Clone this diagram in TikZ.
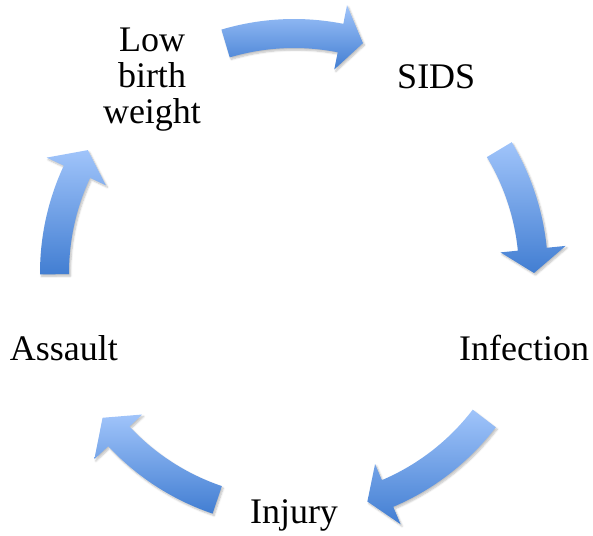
\documentclass[tikz,border=0pt]{standalone}
\usepackage{fontspec}
\setmainfont{Liberation Serif}
\usepackage{tikz}
\usetikzlibrary{shadows.blur}

\begin{document}
\begin{tikzpicture}[x=1pt,y=1pt,
  ring arrow/.style={top color=arrowtop,bottom color=arrowbottom,draw=none,
    blur shadow={shadow xshift=1.5pt,shadow yshift=-2pt,shadow opacity=25,shadow blur steps=6}},
  ring text/.style={font=\fontsize{36}{36}\selectfont,align=center,inner sep=0pt}]
  \definecolor{arrowtop}{RGB}{160,196,250}
  \definecolor{arrowbottom}{RGB}{66,126,210}
  \useasboundingbox (-294,-262) rectangle (299,273);
  \node[ring text] (lbw) at (-142,193) {Low\\birth\\weight};
  \node[ring text] (sids) at (54:242) {SIDS};
  \node[ring text] (infection) at (-18:242) {Infection};
  \node[ring text] (injury) at (-90:242) {Injury};
  \node[ring text] (assault) at (198:242) {Assault};
  \foreach \s/\b/\e in {106.6/78.8/73.3, 31/5.7/0, -37.4/-67/-72.2, -108.7/-137/-142.9, 180.3/155/149.2}
    \path[ring arrow] (\s:254) arc[start angle=\s,end angle=\b,radius=254]
      -- (\b:273) -- (\e:240) -- (\b:207.5) -- (\b:225)
      arc[start angle=\b,end angle=\s,radius=225] -- cycle;
\end{tikzpicture}
\end{document}
